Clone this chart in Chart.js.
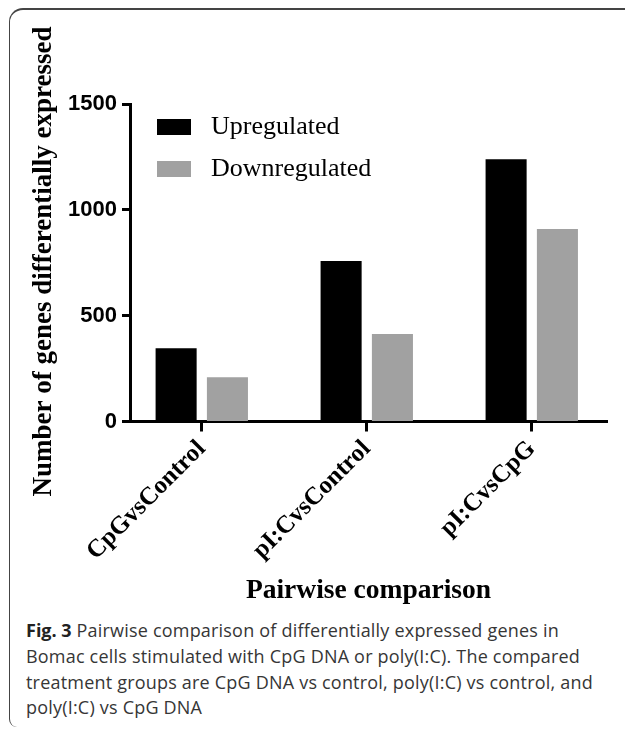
<!DOCTYPE html>
<html>
<head>
<meta charset="utf-8">
<script src="https://cdn.jsdelivr.net/npm/chart.js@4.4.1/dist/chart.umd.min.js"></script>
<style>
  html, body { margin: 0; padding: 0; background: #fff; }
  #page { position: absolute; left: 0; top: 0; width: 625px; height: 730px; overflow: hidden; }
  #frame {
    position: absolute; left: 9px; top: 8px; width: 660px; height: 719px;
    border-top: 2px solid #444; border-left: 1.5px solid #444;
    border-top-left-radius: 14px; border-bottom-left-radius: 8px;
    box-sizing: border-box;
  }
  #chart { position: absolute; left: 0; top: 0; }
  #caption {
    position: absolute; left: 26px; top: 618px;
    font-family: "Open Sans", sans-serif; font-size: 18px; line-height: 25.8px;
    letter-spacing: 0.2px; color: #363636; white-space: nowrap;
  }
  #caption b { font-weight: 700; color: #222; letter-spacing: 0; }
</style>
</head>
<body>
<div id="page">
<div id="frame"></div>
<canvas id="chart" width="625" height="612"></canvas>
<div id="caption"><b>Fig. 3</b> Pairwise comparison of differentially expressed genes in<br>Bomac cells stimulated with CpG DNA or poly(I:C). The compared<br>treatment groups are CpG DNA vs control, poly(I:C) vs control, and<br>poly(I:C) vs CpG DNA</div>
</div>
<script>
// data
const categories = ["CpGvsControl", "pI:CvsControl", "pI:CvsCpG"];
const upregulated = [346, 758, 1239];
const downregulated = [209, 413, 909];
const yTicks = [0, 500, 1000, 1500];
const seriesNames = ["Upregulated", "Downregulated"];
const xTitle = "Pairwise comparison";
const yTitle = "Number of genes differentially expressed";

const serif = '"Liberation Serif", "Times New Roman", serif';

// legend drawn inside the plot, top left, stacked like the original
const legendBox = {
  id: "legendBox",
  afterDraw(chart) {
    const { ctx, chartArea } = chart;
    ctx.save();
    ctx.font = "26px " + serif;
    ctx.textBaseline = "middle";
    chart.data.datasets.forEach((ds, i) => {
      const x = chartArea.left + 27;
      const y = chartArea.top + 15 + i * 42;
      ctx.fillStyle = ds.backgroundColor;
      ctx.fillRect(x, y, 34, 16);
      ctx.fillStyle = "#000";
      ctx.fillText(ds.label, x + 54, y + 8);
    });
    ctx.restore();
  }
};

// y title is longer than the axis, so draw it without squeezing
const yTitleText = {
  id: "yTitleText",
  afterDraw(chart) {
    const { ctx } = chart;
    ctx.save();
    ctx.translate(44, 261.5);
    ctx.rotate(-Math.PI / 2);
    ctx.font = "bold 27px " + serif;
    ctx.textAlign = "center";
    ctx.textBaseline = "middle";
    ctx.fillStyle = "#000";
    ctx.fillText(yTitle, 0, 0);
    ctx.restore();
  }
};

new Chart(document.getElementById("chart"), {
  type: "bar",
  data: {
    datasets: [
      {
        label: seriesNames[0],
        data: categories.map((c, i) => ({ x: i, y: upregulated[i] })),
        backgroundColor: "#000000"
      },
      {
        label: seriesNames[1],
        data: categories.map((c, i) => ({ x: i, y: downregulated[i] })),
        backgroundColor: "#a1a1a1"
      }
    ]
  },
  options: {
    responsive: false,
    animation: false,
    categoryPercentage: 0.622,
    barPercentage: 0.8,
    layout: { padding: { top: 104, right: 18, bottom: 1, left: 0 } },
    plugins: { legend: { display: false }, tooltip: { enabled: false } },
    scales: {
      x: {
        type: "linear",
        min: -0.435,
        max: 2.456,
        offset: false,
        afterBuildTicks: (scale) => { scale.ticks = categories.map((c, i) => ({ value: i })); },
        afterFit: (scale) => { scale.height = 189.5; },
        grid: {
          offset: false, drawOnChartArea: false, drawTicks: true,
          tickLength: 10, tickWidth: 3, tickColor: "#000", color: "#000"
        },
        border: { display: true, color: "#000", width: 3 },
        ticks: {
          autoSkip: false, minRotation: 45, maxRotation: 45, padding: 3,
          color: "#000",
          font: { family: serif, size: 25, weight: "bold" },
          callback: (v) => categories[v]
        },
        title: {
          display: true, text: xTitle, color: "#000",
          font: { family: serif, size: 27.5, weight: "bold" }
        }
      },
      y: {
        min: 0,
        max: 1500,
        afterBuildTicks: (scale) => { scale.ticks = yTicks.map((v) => ({ value: v })); },
        afterFit: (scale) => { scale.width = 130; },
        grid: {
          drawOnChartArea: false, drawTicks: true,
          tickLength: 8, tickWidth: 3, tickColor: "#000", color: "#000"
        },
        border: { display: true, color: "#000", width: 3 },
        ticks: {
          padding: 5, color: "#000",
          font: { family: '"Liberation Sans", Arial, sans-serif', size: 22, weight: "bold" },
          callback: (v) => String(v)
        }
      }
    }
  },
  plugins: [legendBox, yTitleText]
});
</script>
</body>
</html>
